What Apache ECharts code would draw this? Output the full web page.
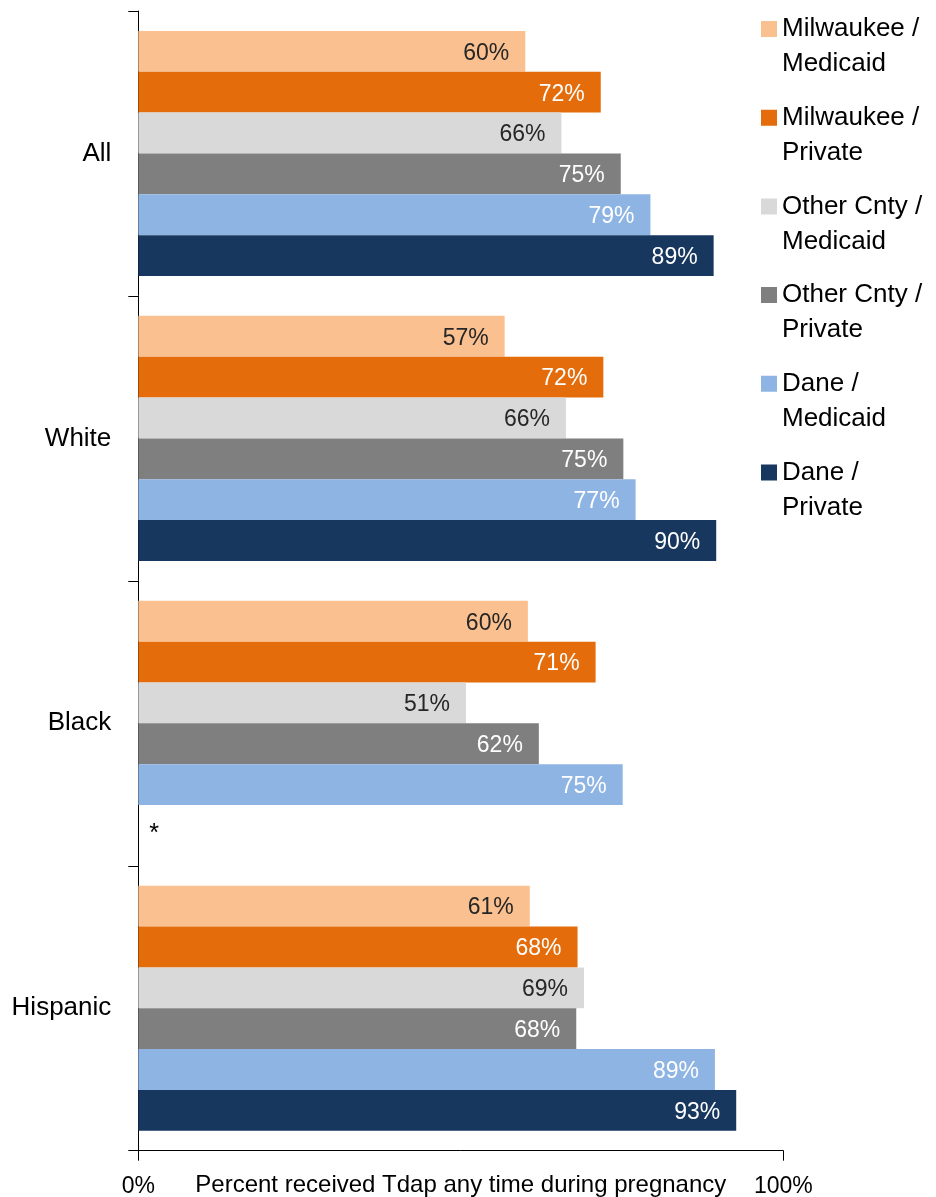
<!DOCTYPE html>
<html>
<head>
<meta charset="utf-8">
<script src="https://cdn.jsdelivr.net/npm/echarts@6/dist/echarts.min.js"></script>
<style>
html,body{margin:0;padding:0;background:#fff;}
#chart{width:936px;height:1197px;}
</style>
</head>
<body>
<div id="chart"></div>
<script>
// Categories (top to bottom)
const categories = ['All', 'White', 'Black', 'Hispanic'];
// Series names
const seriesNames = ['Milwaukee / Medicaid', 'Milwaukee / Private', 'Other Cnty / Medicaid', 'Other Cnty / Private', 'Dane / Medicaid', 'Dane / Private'];
// Values (percent); null = not shown (*)
const milwaukeeMedicaid = [60.0, 56.8, 60.4, 60.7];
const milwaukeePrivate  = [71.7, 72.1, 70.9, 68.1];
const otherMedicaid     = [65.6, 66.3, 50.8, 69.1];
const otherPrivate      = [74.8, 75.2, 62.1, 67.9];
const daneMedicaid      = [79.4, 77.1, 75.1, 89.4];
const danePrivate       = [89.2, 89.6, null, 92.7];
// Axis tick values
const xTicks = [0, 100];
const xAxisName = 'Percent received Tdap any time during pregnancy';

const seriesValues = [milwaukeeMedicaid, milwaukeePrivate, otherMedicaid, otherPrivate, daneMedicaid, danePrivate];
const colors = ['#FAC090', '#E46C0A', '#D9D9D9', '#7F7F7F', '#8EB4E3', '#17375E'];
const labelColors = ['#262626', '#FFFFFF', '#262626', '#FFFFFF', '#FFFFFF', '#FFFFFF'];
const FONT = '"Liberation Sans", Arial, sans-serif';

const chart = echarts.init(document.getElementById('chart'), null, {renderer: 'canvas'});

const series = seriesNames.map((name, i) => ({
  type: 'bar',
  name: name,
  barGap: '0%',
  barCategoryGap: '14%',
  itemStyle: {color: colors[i]},
  label: {
    show: true,
    position: 'insideRight',
    distance: 16,
    offset: [0, 2],
    color: labelColors[i],
    fontSize: 23,
    fontFamily: FONT,
    formatter: p => Math.round(p.value) + '%'
  },
  data: seriesValues[i].map(v => v == null ? {
    value: 0,
    label: {show: true, position: 'right', distance: 11, offset: [0, 9], color: '#000', fontSize: 25, fontFamily: FONT, formatter: '*'}
  } : v)
}));

chart.setOption({
  animation: false,
  backgroundColor: '#fff',
  grid: {left: 138.3, right: 152.7, top: 11, bottom: 46.3, containLabel: false, outerBoundsMode: 'none'},
  legend: {
    orient: 'vertical',
    left: 761,
    top: 11.5,
    padding: 0,
    itemGap: 18.7,
    itemWidth: 16,
    itemHeight: 51,
    icon: 'path://M0,0h16v16h-16z M0,51h16',
    data: seriesNames,
    formatter: n => n.replace(' / ', ' /\n'),
    textStyle: {fontSize: 26, lineHeight: 35, color: '#000', fontFamily: FONT}
  },
  xAxis: {
    type: 'value',
    min: xTicks[0],
    max: xTicks[xTicks.length - 1],
    interval: xTicks[1] - xTicks[0],
    name: xAxisName,
    nameLocation: 'middle',
    nameGap: 23,
    nameMoveOverlap: false,
    nameTextStyle: {fontSize: 24, color: '#000', fontFamily: FONT, verticalAlign: 'top'},
    axisLine: {show: true, lineStyle: {color: '#000', width: 1}},
    axisTick: {show: true, length: 10, lineStyle: {color: '#000'}},
    axisLabel: {fontSize: 23, color: '#000', fontFamily: FONT, margin: 24, formatter: '{value}%'},
    splitLine: {show: false}
  },
  yAxis: {
    type: 'category',
    inverse: true,
    data: categories,
    axisLine: {show: true, lineStyle: {color: '#000', width: 1}},
    axisTick: {show: true, length: 10, lineStyle: {color: '#000'}},
    axisLabel: {fontSize: 26, color: '#000', fontFamily: FONT, margin: 27},
    splitLine: {show: false}
  },
  series: series
});
</script>
</body>
</html>
